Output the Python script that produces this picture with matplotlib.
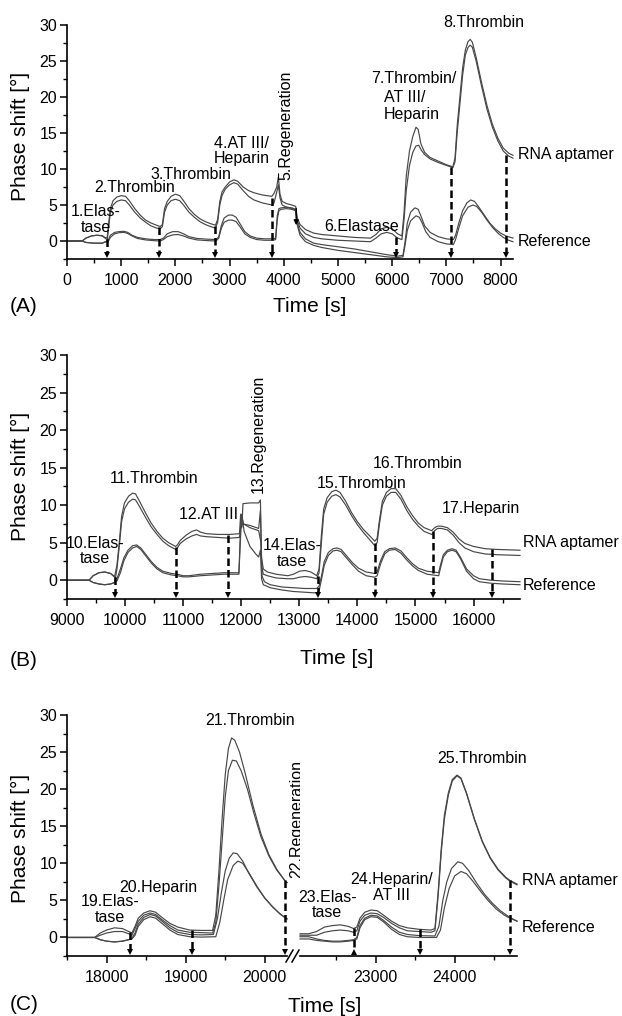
import matplotlib
matplotlib.use("Agg")
import matplotlib.pyplot as plt
from matplotlib.ticker import MultipleLocator, FormatStrFormatter
from matplotlib.lines import Line2D

plt.rcParams["font.family"] = ["Liberation Sans", "DejaVu Sans"]

# ---------------- panel A data (time [s], phase shift [deg]) ----------------
A_apt_hi = [(0, 0), (280, 0), (350, 0.4), (450, 0.7), (550, 0.8), (650, 0.75), (700, 0.5), (740, 0.4),
            (770, 2.5), (800, 4.5), (850, 5.6), (920, 6.1), (1000, 6.3), (1080, 6.2), (1150, 5.6),
            (1250, 4.5), (1350, 3.6), (1450, 2.9), (1550, 2.5), (1650, 2.2), (1720, 2.0), (1760, 2.3),
            (1800, 4.5), (1850, 5.5), (1920, 6.2), (2000, 6.5), (2080, 6.3), (2150, 5.6), (2250, 4.5),
            (2350, 3.7), (2450, 3.1), (2550, 2.7), (2650, 2.4), (2740, 2.2), (2780, 3.0), (2820, 5.5),
            (2860, 6.8), (2920, 7.5), (3000, 8.2), (3080, 8.5), (3150, 8.3), (3250, 7.5), (3350, 7.0),
            (3450, 6.7), (3600, 6.4), (3780, 6.2), (3820, 6.6), (3870, 7.5), (3900, 8.9), (3930, 6.5),
            (3970, 5.5), (4050, 5.2), (4150, 5.0), (4220, 4.8), (4250, 3.2), (4300, 2.3), (4400, 1.6),
            (4550, 1.1), (4700, 0.9), (5000, 0.7), (5300, 0.5), (5600, 0.4), (5700, 0.9), (5800, 1.7),
            (5900, 1.9), (6000, 1.7), (6100, 1.0), (6180, 0.7), (6220, 4), (6260, 9), (6320, 12.5),
            (6380, 14.5), (6440, 15.8), (6480, 15.5), (6530, 13.5), (6600, 12.3), (6700, 11.6),
            (6850, 11.1), (7000, 10.6), (7120, 10.3), (7160, 11.5), (7200, 16), (7250, 20), (7300, 24),
            (7350, 26.5), (7400, 27.7), (7440, 28.0), (7480, 27.6), (7550, 25.5), (7650, 22),
            (7750, 18.8), (7850, 16.2), (7950, 14.3), (8050, 12.9), (8150, 12.2), (8230, 11.9)]
A_apt_lo = [(0, 0), (280, 0), (350, -0.2), (500, -0.3), (650, -0.3), (740, 0), (770, 2), (800, 4),
            (850, 5.0), (920, 5.5), (1000, 5.7), (1080, 5.6), (1150, 5.0), (1250, 4.0), (1350, 3.2),
            (1450, 2.6), (1550, 2.1), (1650, 1.8), (1720, 1.7), (1760, 2.0), (1800, 4.0), (1850, 5.0),
            (1920, 5.6), (2000, 5.8), (2080, 5.6), (2150, 5.0), (2250, 4.0), (2350, 3.3), (2450, 2.7),
            (2550, 2.3), (2650, 2.0), (2740, 1.8), (2780, 2.6), (2820, 5.0), (2860, 6.3), (2920, 7.2),
            (3000, 7.8), (3080, 8.1), (3150, 7.9), (3250, 7.0), (3350, 6.2), (3450, 5.7), (3600, 5.3),
            (3780, 5.0), (3820, 5.3), (3870, 6.8), (3900, 7.8), (3930, 6.0), (3970, 5.0), (4050, 4.7),
            (4150, 4.5), (4220, 4.3), (4250, 2.8), (4300, 1.8), (4400, 1.0), (4550, 0.5), (4700, 0.3),
            (5000, 0.1), (5300, 0), (5600, -0.1), (5700, 0.4), (5800, 1.0), (5900, 1.2), (6000, 1.0),
            (6100, 0.4), (6180, 0.2), (6220, 3), (6260, 7), (6320, 10.5), (6380, 12.3), (6440, 13.2),
            (6490, 13.3), (6540, 12.6), (6600, 12.0), (6700, 11.4), (6850, 10.9), (7000, 10.5),
            (7120, 10.2), (7160, 11), (7200, 15), (7250, 19), (7300, 23), (7350, 25.8), (7400, 26.9),
            (7440, 27.2), (7480, 26.9), (7550, 25), (7650, 21.5), (7750, 18.3), (7850, 15.8),
            (7950, 13.9), (8050, 12.5), (8150, 11.8), (8230, 11.5)]
A_ref_hi = [(0, 0), (280, 0), (350, 0.4), (450, 0.7), (550, 0.8), (650, 0.7), (720, 0.3), (760, 0.1),
            (800, 0.8), (880, 1.2), (960, 1.3), (1050, 1.35), (1120, 1.2), (1200, 0.8), (1300, 0.5),
            (1450, 0.3), (1600, 0.2), (1720, 0.2), (1780, 0.4), (1850, 1.0), (1950, 1.3), (2050, 1.3),
            (2150, 1.0), (2250, 0.6), (2400, 0.35), (2600, 0.25), (2750, 0.2), (2800, 0.6), (2850, 2.2),
            (2900, 3.2), (2980, 3.6), (3050, 3.6), (3120, 3.3), (3200, 2.3), (3280, 1.3), (3380, 0.7),
            (3500, 0.4), (3650, 0.3), (3800, 0.3), (3850, 0.4), (3880, 3.5), (3910, 4.5), (3950, 4.6),
            (4050, 4.7), (4150, 4.6), (4220, 4.4), (4250, 2.5), (4300, 1.2), (4400, 0.3), (4550, -0.3),
            (4700, -0.5), (5000, -0.8), (5300, -1.1), (5600, -1.5), (5900, -1.9), (6100, -2.1),
            (6200, -2.0), (6240, 0), (6280, 2.5), (6340, 4.0), (6420, 4.6), (6480, 4.4), (6540, 3.3),
            (6600, 2.1), (6700, 1.2), (6850, 0.6), (7000, 0.3), (7130, 0.2), (7170, 0.8), (7230, 2.5),
            (7300, 4.2), (7380, 5.3), (7450, 5.7), (7520, 5.5), (7600, 4.7), (7700, 3.6), (7800, 2.5),
            (7900, 1.7), (8000, 1.1), (8100, 0.7), (8230, 0.4)]
A_ref_lo = [(0, 0), (280, 0), (350, -0.2), (500, -0.3), (650, -0.3), (720, -0.1), (760, -0.1),
            (800, 0.5), (880, 1.0), (960, 1.15), (1050, 1.2), (1120, 1.05), (1200, 0.7), (1300, 0.35),
            (1450, 0.15), (1600, 0.05), (1720, 0), (1780, 0.2), (1850, 0.6), (1950, 0.85), (2050, 0.9),
            (2150, 0.7), (2250, 0.4), (2400, 0.15), (2600, 0.05), (2750, 0), (2800, 0.4), (2850, 1.8),
            (2900, 2.6), (2980, 2.9), (3050, 2.9), (3120, 2.7), (3200, 1.9), (3280, 1.0), (3380, 0.5),
            (3500, 0.2), (3650, 0.1), (3800, 0.1), (3850, 0.2), (3880, 3.0), (3910, 4.2), (3950, 4.4),
            (4050, 4.5), (4150, 4.4), (4220, 4.2), (4250, 2.2), (4300, 0.8), (4400, -0.1), (4550, -0.6),
            (4700, -0.9), (5000, -1.3), (5300, -1.6), (5600, -1.9), (5900, -2.2), (6100, -2.3),
            (6200, -2.2), (6240, -0.5), (6280, 1.5), (6340, 2.8), (6440, 3.5), (6500, 3.3), (6560, 2.4),
            (6620, 1.3), (6700, 0.5), (6850, -0.1), (7000, -0.4), (7130, -0.5), (7170, 0.2), (7230, 1.8),
            (7300, 3.5), (7400, 4.7), (7490, 5.0), (7560, 4.8), (7650, 4.0), (7750, 2.9), (7850, 1.9),
            (7950, 1.1), (8050, 0.5), (8150, 0.1), (8230, -0.1)]
# injection marks: (time, upper end of the dashed arrow)
A_marks = [(730, 0.3), (1700, 2.0), (2730, 2.1), (3790, 6.0), (6080, 0.6), (7090, 10.3), (8110, 12.0)]

# ---------------- panel B data ----------------
B_apt_hi = [(9000, 0), (9380, 0), (9450, 0.6), (9550, 1.0), (9650, 1.1), (9750, 0.9), (9820, 0.5),
            (9860, 2), (9900, 5), (9940, 8.5), (9990, 10.3), (10060, 11.2), (10130, 11.6), (10180, 11.5),
            (10250, 10.5), (10350, 9.0), (10450, 7.6), (10550, 6.5), (10650, 5.6), (10750, 5.0),
            (10870, 4.5), (10900, 4.7), (10950, 5.3), (11050, 6.0), (11150, 6.5), (11230, 6.7),
            (11300, 6.4), (11400, 6.2), (11600, 6.1), (11800, 6.1), (11970, 6.2), (11990, 8.8),
            (12010, 7), (12030, 10.2), (12150, 10.3), (12300, 10.3), (12330, 10.7), (12350, 3),
            (12380, 1.5), (12450, 1.1), (12600, 0.8), (12800, 0.6), (12900, 0.8), (13000, 1.2),
            (13100, 1.3), (13200, 1.1), (13300, 0.6), (13340, 1.5), (13380, 6), (13420, 9.5),
            (13480, 11), (13560, 11.8), (13630, 12.0), (13700, 11.7), (13800, 10.5), (13900, 9.0),
            (14000, 7.8), (14100, 6.8), (14200, 6.0), (14300, 5.2), (14340, 5.6), (14380, 8),
            (14430, 10.5), (14500, 11.7), (14580, 12.2), (14660, 12.2), (14750, 11.3), (14850, 9.8),
            (14950, 8.6), (15050, 7.6), (15150, 7.0), (15280, 6.6), (15330, 7.0), (15380, 7.2),
            (15450, 7.2), (15550, 7.0), (15650, 6.4), (15750, 5.5), (15850, 4.9), (16000, 4.5),
            (16200, 4.2), (16400, 4.1), (16800, 4.0)]
B_apt_lo = [(9000, 0), (9380, 0), (9450, -0.3), (9550, -0.5), (9650, -0.6), (9750, -0.5), (9820, -0.3),
            (9860, 1.5), (9900, 4.5), (9940, 7.8), (9990, 9.5), (10060, 10.4), (10130, 10.8),
            (10180, 10.7), (10250, 9.8), (10350, 8.4), (10450, 7.1), (10550, 6.1), (10650, 5.2),
            (10750, 4.6), (10870, 4.1), (10900, 4.3), (10950, 4.9), (11050, 5.5), (11150, 5.9),
            (11230, 6.1), (11300, 5.9), (11400, 5.8), (11600, 5.7), (11800, 5.6), (11970, 5.7),
            (11990, 7.0), (12030, 7.5), (12150, 7.3), (12300, 6.9), (12330, 9.3), (12350, 2),
            (12380, 0.8), (12450, 0.6), (12600, 0.3), (12800, 0.2), (12900, 0.2), (13000, 0.4),
            (13100, 0.5), (13200, 0.4), (13300, 0.2), (13340, 1), (13380, 5), (13420, 8.8), (13480, 10.4),
            (13560, 11.2), (13630, 11.4), (13700, 11.1), (13800, 10.0), (13900, 8.6), (14000, 7.4),
            (14100, 6.4), (14200, 5.5), (14300, 4.6), (14340, 5.0), (14380, 7.5), (14430, 10),
            (14500, 11.2), (14580, 11.7), (14660, 11.7), (14750, 10.8), (14850, 9.3), (14950, 8.1),
            (15050, 7.2), (15150, 6.5), (15280, 6.1), (15330, 6.6), (15380, 6.9), (15450, 6.9),
            (15550, 6.7), (15650, 6.0), (15750, 5.0), (15850, 4.3), (16000, 3.8), (16200, 3.5),
            (16400, 3.4), (16800, 3.3)]
B_ref_hi = [(9000, 0), (9380, 0), (9450, 0.6), (9550, 1.0), (9650, 1.1), (9750, 0.9), (9820, 0.4),
            (9860, 0.2), (9920, 1.5), (9980, 3.0), (10050, 4.0), (10130, 4.6), (10200, 4.7), (10270, 4.3),
            (10350, 3.5), (10450, 2.5), (10550, 1.7), (10650, 1.2), (10800, 0.9), (10900, 0.8),
            (11000, 0.6), (11100, 0.6), (11300, 0.8), (11500, 0.9), (11700, 1.0), (11960, 1.0),
            (11990, 6), (12010, 8.5), (12040, 7.5), (12150, 7.0), (12300, 6.6), (12340, 5),
            (12360, 0.5), (12400, -0.2), (12500, -0.6), (12700, -0.9), (12900, -1.0), (13100, -1.1),
            (13300, -1.1), (13340, -0.8), (13380, 0.5), (13430, 2.5), (13500, 3.7), (13580, 4.2),
            (13650, 4.3), (13720, 4.1), (13820, 3.2), (13920, 2.3), (14020, 1.6), (14150, 1.1),
            (14300, 0.9), (14340, 1.1), (14400, 2.6), (14470, 3.8), (14550, 4.2), (14650, 4.3),
            (14750, 3.9), (14850, 3.0), (14950, 2.2), (15050, 1.6), (15200, 1.2), (15300, 1.1),
            (15400, 1.0), (15430, 2.0), (15480, 3.4), (15550, 4.0), (15630, 4.2), (15700, 4.0),
            (15780, 3.0), (15880, 1.5), (16000, 0.6), (16100, 0.2), (16300, 0.0), (16500, -0.1),
            (16800, -0.2)]
B_ref_lo = [(9000, 0), (9380, 0), (9450, -0.3), (9550, -0.5), (9650, -0.6), (9750, -0.5), (9820, -0.3),
            (9860, -0.1), (9920, 1.0), (9980, 2.6), (10050, 3.7), (10130, 4.3), (10200, 4.5),
            (10270, 4.1), (10350, 3.3), (10450, 2.3), (10550, 1.5), (10650, 1.0), (10800, 0.7),
            (10900, 0.6), (11000, 0.45), (11100, 0.45), (11300, 0.6), (11500, 0.7), (11700, 0.8),
            (11960, 0.8), (11990, 7.5), (12010, 8.8), (12050, 6.5), (12150, 4.5), (12250, 3.5),
            (12300, 3.1), (12330, 4.0), (12350, 0.2), (12380, -0.6), (12500, -1.0), (12700, -1.3),
            (12900, -1.5), (13100, -1.6), (13300, -1.7), (13340, -1.4), (13380, 0), (13430, 2.0),
            (13500, 3.3), (13580, 3.9), (13650, 4.0), (13720, 3.8), (13820, 2.9), (13920, 2.0),
            (14020, 1.2), (14150, 0.6), (14300, 0.4), (14340, 0.6), (14400, 2.2), (14470, 3.5),
            (14550, 4.0), (14650, 4.1), (14750, 3.6), (14850, 2.7), (14950, 1.9), (15050, 1.3),
            (15200, 0.8), (15300, 0.7), (15400, 0.6), (15430, 1.6), (15480, 3.1), (15550, 3.8),
            (15630, 4.0), (15700, 3.8), (15780, 2.8), (15880, 1.2), (16000, 0.2), (16100, -0.2),
            (16300, -0.4), (16500, -0.5), (16800, -0.6)]
B_marks = [(9830, 0.4), (10870, 4.4), (11770, 6.0), (13320, 0.6), (14310, 5.0), (15300, 6.5), (16320, 4.1)]

# ---------------- panel C data (broken time axis) ----------------
C1_apt_hi = [(17500, 0), (17850, 0), (17920, 0.6), (18000, 1.0), (18100, 1.3), (18200, 1.2), (18280, 0.8),
             (18320, 0.6), (18360, 1.5), (18400, 2.6), (18470, 3.3), (18550, 3.6), (18620, 3.4),
             (18700, 2.7), (18800, 1.9), (18900, 1.4), (19050, 1.0), (19200, 0.95), (19340, 0.95),
             (19380, 3), (19420, 9), (19460, 16), (19500, 22), (19540, 25.5), (19580, 26.9),
             (19620, 26.6), (19680, 25), (19750, 22.2), (19850, 17.8), (19950, 14), (20050, 11.2),
             (20150, 9.2), (20250, 7.7), (20280, 7.4)]
C1_apt_lo = [(17500, 0), (17850, 0), (17920, 0.3), (18000, 0.6), (18100, 0.8), (18200, 0.8), (18280, 0.5),
             (18320, 0.3), (18360, 1.2), (18400, 2.2), (18470, 3.0), (18550, 3.3), (18620, 3.1),
             (18700, 2.4), (18800, 1.6), (18900, 1.0), (19050, 0.7), (19200, 0.65), (19340, 0.6),
             (19380, 2), (19420, 7), (19460, 13), (19500, 19), (19540, 22.5), (19590, 23.9),
             (19640, 23.8), (19700, 22.5), (19780, 20), (19860, 16.8), (19950, 13.6), (20050, 11),
             (20150, 9.1), (20250, 7.7), (20280, 7.4)]
C1_ref_hi = [(17500, 0), (17850, 0), (17920, -0.3), (18000, -0.5), (18100, -0.6), (18200, -0.5),
             (18280, -0.3), (18320, -0.1), (18360, 0.6), (18400, 1.8), (18470, 2.7), (18550, 3.1),
             (18620, 2.9), (18700, 2.2), (18800, 1.3), (18900, 0.7), (19050, 0.4), (19200, 0.35),
             (19350, 0.4), (19400, 2.5), (19450, 6), (19500, 9), (19550, 10.7), (19600, 11.4),
             (19650, 11.3), (19720, 10.3), (19800, 8.6), (19900, 6.8), (20000, 5.3), (20100, 4.1),
             (20200, 3.1), (20280, 2.5)]
C1_ref_lo = [(17500, 0), (17850, 0), (17920, -0.3), (18000, -0.5), (18100, -0.6), (18200, -0.5),
             (18280, -0.3), (18320, -0.2), (18360, 0.3), (18400, 1.5), (18470, 2.4), (18550, 2.8),
             (18620, 2.6), (18700, 1.9), (18800, 1.0), (18900, 0.4), (19050, 0.1), (19200, 0.05),
             (19380, 0.1), (19430, 2), (19480, 5), (19530, 7.8), (19600, 9.7), (19660, 10.3),
             (19720, 10.0), (19800, 8.7), (19900, 6.9), (20000, 5.3), (20100, 4.1), (20200, 3.1),
             (20280, 2.5)]
C2_apt_hi = [(22040, 0.5), (22150, 0.5), (22250, 0.8), (22350, 1.4), (22450, 1.6), (22550, 1.7),
             (22650, 1.5), (22720, 1.2), (22760, 1.4), (22800, 2.6), (22860, 3.4), (22940, 3.7),
             (23020, 3.6), (23100, 3.0), (23200, 2.2), (23300, 1.6), (23400, 1.3), (23550, 1.1),
             (23700, 1.0), (23750, 1.2), (23790, 6), (23830, 12), (23870, 16.5), (23920, 19.5),
             (23970, 21.3), (24030, 21.9), (24080, 21.5), (24150, 19.5), (24250, 16), (24350, 13),
             (24450, 10.8), (24550, 9.2), (24650, 8.1), (24700, 7.7), (24790, 7.2)]
C2_apt_lo = [(22040, 0.3), (22150, 0.3), (22250, 0.3), (22350, 0.7), (22450, 0.9), (22550, 1.0),
             (22650, 0.9), (22720, 0.7), (22760, 0.9), (22800, 2.2), (22860, 3.0), (22940, 3.3),
             (23020, 3.2), (23100, 2.7), (23200, 1.9), (23300, 1.3), (23400, 0.9), (23550, 0.8),
             (23700, 0.7), (23750, 0.9), (23790, 5.5), (23830, 11.5), (23870, 16), (23920, 19.2),
             (23970, 21.1), (24030, 21.8), (24080, 21.4), (24150, 19.4), (24250, 15.9), (24350, 12.9),
             (24450, 10.7), (24550, 9.1), (24650, 8.0), (24700, 7.6), (24790, 7.1)]
C2_ref_hi = [(22040, 0.1), (22150, 0.1), (22250, -0.2), (22350, -0.4), (22450, -0.5), (22550, -0.5),
             (22650, -0.4), (22720, -0.3), (22760, 0), (22800, 1.6), (22860, 2.6), (22940, 3.0),
             (23020, 2.9), (23100, 2.3), (23200, 1.4), (23300, 0.7), (23400, 0.4), (23550, 0.25),
             (23750, 0.2), (23800, 1.5), (23850, 5), (23900, 7.5), (23960, 9.3), (24040, 10.2),
             (24100, 10.0), (24180, 9.0), (24280, 7.3), (24380, 5.8), (24480, 4.6), (24580, 3.6),
             (24700, 2.7), (24790, 2.2)]
C2_ref_lo = [(22040, -0.2), (22150, -0.2), (22250, -0.4), (22350, -0.5), (22450, -0.6), (22550, -0.6),
             (22650, -0.5), (22720, -0.4), (22760, -0.2), (22800, 1.3), (22860, 2.4), (22940, 2.8),
             (23020, 2.7), (23100, 2.1), (23200, 1.1), (23300, 0.4), (23400, 0.1), (23550, 0),
             (23770, 0), (23820, 1.0), (23870, 4), (23930, 6.6), (24000, 8.3), (24080, 8.9),
             (24150, 8.6), (24230, 7.6), (24330, 6.2), (24430, 4.9), (24530, 3.8), (24630, 3.0),
             (24700, 2.6), (24790, 2.2)]
C1_marks = [(18300, 0.8), (19080, 1.0), (20250, 7.7)]
C2_marks = [(23555, 1.1), (24700, 7.7)]
C2_up_marks = [(22720, 1.3)]

# event labels: (text, time, phase shift)
A_labels = [("1.Elas-\ntase", 530, 3.0), ("2.Thrombin", 1240, 7.5), ("3.Thrombin", 2290, 9.3),
            ("4.AT III/\nHeparin", 3220, 12.5), ("6.Elastase", 5440, 2.0), ("8.Thrombin", 7690, 30.4)]
B_labels = [("10.Elas-\ntase", 9480, 3.9), ("11.Thrombin", 10500, 13.5), ("12.AT III", 11430, 8.7),
            ("14.Elas-\ntase", 12880, 3.6), ("15.Thrombin", 14070, 12.9), ("16.Thrombin", 15030, 15.5),
            ("17.Heparin", 16120, 9.6)]
C1_labels = [("19.Elas-\ntase", 18040, 3.75), ("20.Heparin", 18650, 6.8), ("21.Thrombin", 19810, 29.3)]
C2_labels = [("23.Elas-\ntase", 22385, 4.4), ("24.Heparin/\nAT III", 23205, 6.75), ("25.Thrombin", 24350, 24.2)]

W, H = 622, 1016
LINE = "#474747"
FS = 11.5

fig = plt.figure(figsize=(W / 100, H / 100), dpi=100)


def px_axes(left, top, right, bottom):
    return fig.add_axes([left / W, 1 - bottom / H, (right - left) / W, (bottom - top) / H])


def style(ax, xlim, show_y=True):
    ax.set_xlim(*xlim)
    ax.set_ylim(-2.5, 30)
    for s in ("top", "right"):
        ax.spines[s].set_visible(False)
    ax.spines["bottom"].set_linewidth(1.2)
    ax.spines["left"].set_linewidth(1.2)
    ax.xaxis.set_major_locator(MultipleLocator(1000))
    ax.xaxis.set_minor_locator(MultipleLocator(500))
    ax.xaxis.set_major_formatter(FormatStrFormatter("%d"))
    ax.yaxis.set_major_locator(MultipleLocator(5))
    ax.yaxis.set_minor_locator(MultipleLocator(2.5))
    ax.tick_params(which="major", length=5, width=1.1, labelsize=FS, direction="out")
    ax.tick_params(which="minor", length=3, width=1.0, direction="out")
    ax.tick_params(axis="x", pad=5)
    ax.tick_params(axis="y", pad=2)
    if not show_y:
        ax.spines["left"].set_visible(False)
        ax.tick_params(axis="y", which="both", left=False, labelleft=False)


def traces(ax, series):
    for s in series:
        t, v = zip(*s)
        ax.plot(t, v, color=LINE, lw=0.85, clip_on=False)


def arrows(ax, marks, up=False):
    for t, top in marks:
        ax.plot([t, t], [top, -1.7], color="k", lw=1.8, ls=(0, (3, 1.6)), clip_on=False, zorder=3)
        ax.plot([t], [-2.0], marker="^" if up else "v", ms=5, color="k", mew=0, clip_on=False, zorder=3)


def labels(ax, items):
    for txt, t, v in items:
        ax.text(t, v, txt, ha="center", va="center", fontsize=FS, linespacing=1.05, clip_on=False)


# ---------------- panel A ----------------
axA = px_axes(67, 25, 513, 259)
style(axA, (0, 8230))
traces(axA, [A_apt_hi, A_apt_lo, A_ref_hi, A_ref_lo])
arrows(axA, A_marks)
labels(axA, A_labels)
axA.text(4030, 8.5, "5.Regeneration", rotation=90, ha="center", va="bottom", fontsize=FS)
axA.text(5620, 22.6, "7.Thrombin/", ha="left", va="center", fontsize=FS)
axA.text(5845, 18.75, "AT III/\nHeparin", ha="left", va="center", fontsize=FS, linespacing=1.1)
axA.annotate("", xy=(4230, 1.8), xytext=(4230, 4.9),
             arrowprops=dict(arrowstyle="-|>", color="k", lw=1.0, mutation_scale=7))

# ---------------- panel B ----------------
axB = px_axes(67, 355, 520, 599)
style(axB, (9000, 16800))
traces(axB, [B_apt_hi, B_apt_lo, B_ref_hi, B_ref_lo])
arrows(axB, B_marks)
labels(axB, B_labels)
axB.text(12290, 11.6, "13.Regeneration", rotation=90, ha="center", va="bottom", fontsize=FS)

# ---------------- panel C ----------------
axC1 = px_axes(67, 715, 287, 956)
style(axC1, (17500, 20280))
traces(axC1, [C1_apt_hi, C1_apt_lo, C1_ref_hi, C1_ref_lo])
arrows(axC1, C1_marks)
labels(axC1, C1_labels)
axC1.text(20405, 8.0, "22.Regeneration", rotation=90, ha="center", va="bottom", fontsize=FS, clip_on=False)

axC2 = px_axes(300, 715, 517, 956)
style(axC2, (22040, 24790), show_y=False)
traces(axC2, [C2_apt_hi, C2_apt_lo, C2_ref_hi, C2_ref_lo])
arrows(axC2, C2_marks)
arrows(axC2, C2_up_marks, up=True)
labels(axC2, C2_labels)

# axis break marks
for x0 in (286, 292):
    fig.add_artist(Line2D([x0 / W, (x0 + 7) / W], [1 - 962 / H, 1 - 950 / H], color="k", lw=1.1))

# figure-level texts
for y in (136, 476, 838):
    fig.text(20 / W, 1 - y / H, "Phase shift [°]", rotation=90, ha="center", va="center", fontsize=15)
for x, y in ((310, 306), (337, 658), (325, 1006)):
    fig.text(x / W, 1 - y / H, "Time [s]", ha="center", va="center", fontsize=15)
for tag, y in (("(A)", 306), ("(B)", 660), ("(C)", 1005)):
    fig.text(10 / W, 1 - y / H, tag, ha="left", va="center", fontsize=15)
for x, y_apt, y_ref in ((518, 154, 242), (523, 543, 585), (522, 880, 928)):
    fig.text(x / W, 1 - y_apt / H, "RNA aptamer", ha="left", va="center", fontsize=FS)
    fig.text(x / W, 1 - y_ref / H, "Reference", ha="left", va="center", fontsize=FS)

fig.savefig("out.png", dpi=100)
